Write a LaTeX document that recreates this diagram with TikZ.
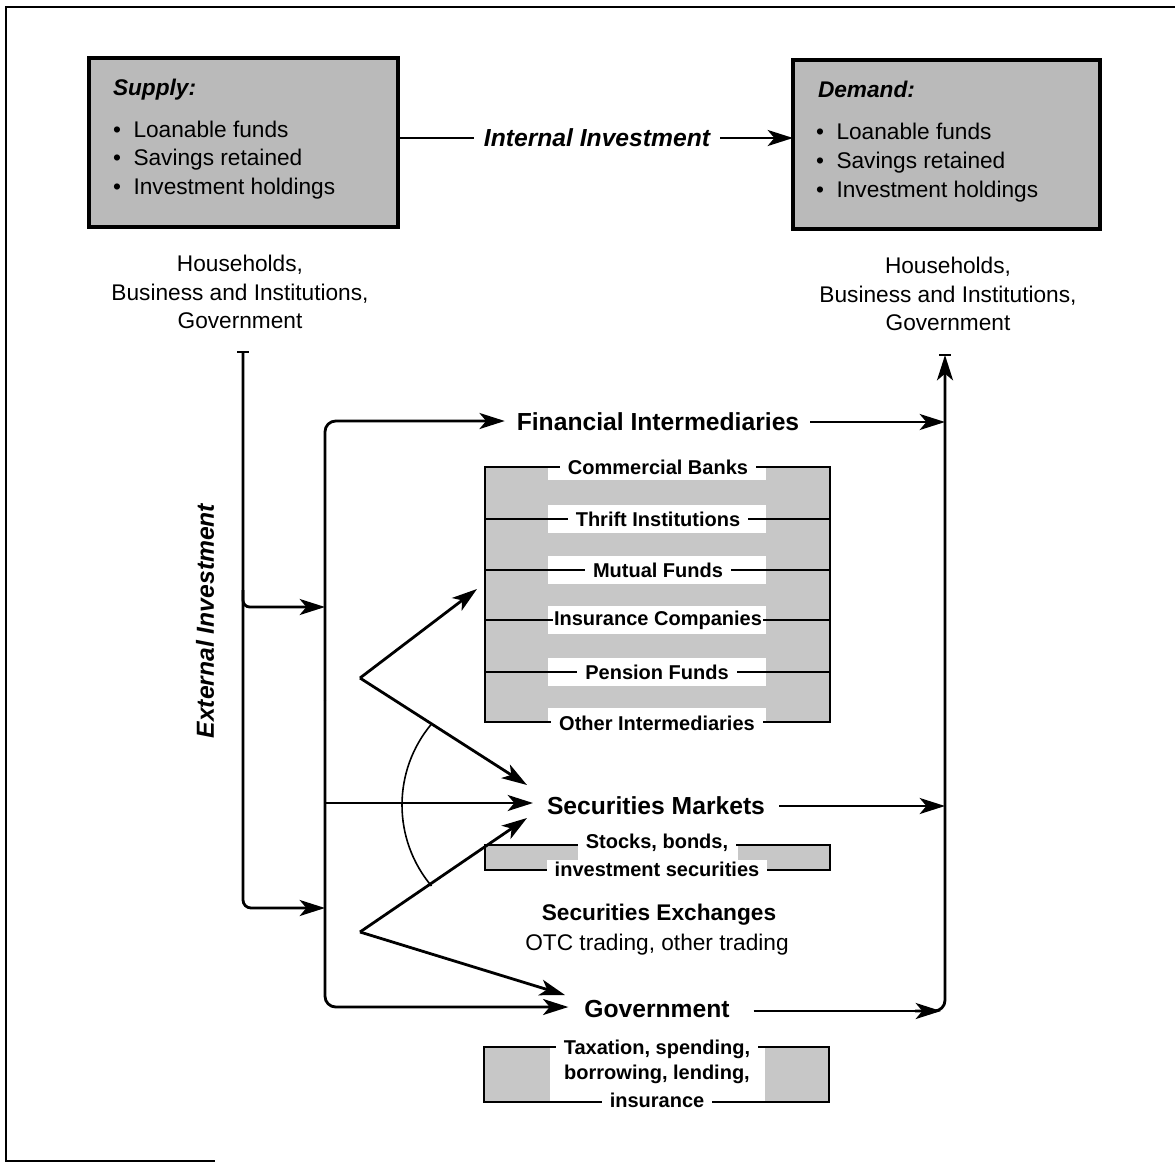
\documentclass[tikz,border=0pt]{standalone}
\usepackage{fontspec}
\setmainfont{Liberation Sans}
\usetikzlibrary{arrows.meta,calc}
\newcommand\fBig{\fontsize{18.5}{22}\selectfont\bfseries}
\newcommand\fBigI{\fontsize{18.5}{22}\selectfont\bfseries\itshape}
\newcommand\fMed{\fontsize{17}{21.4}\selectfont}
\newcommand\fMedB{\fontsize{17}{21.4}\selectfont\bfseries}
\newcommand\fSmB{\fontsize{15}{18}\selectfont\bfseries}
\begin{document}
\begin{tikzpicture}[x=0.75pt,y=-0.75pt,
  every node/.style={inner sep=0pt,outer sep=0pt},
  ln/.style={line width=2.1pt},
  arrw/.style={line width=2.1pt,-{Stealth[length=19pt,width=12pt,inset=5pt]}},
  bigbox/.style={draw,line width=2.4pt,fill=black!27,anchor=north west},
  gbox/.style={draw,line width=1.6pt,fill=black!22},
  inner/.style={line width=1.4pt},
  band/.style={fill=white,draw=none},
  lab/.style={fill=white,inner xsep=6pt,inner ysep=1pt,font=\fSmB},
  item/.style={anchor=base west,font=\fMed},
]
\useasboundingbox (0,0) rectangle (1175,1164);
% outer frame
\draw[line width=1.5pt] (1175,7) -- (6,7) -- (6,1161) -- (215,1161);

% supply and demand boxes
\node[bigbox,minimum width=231.75pt,minimum height=126.75pt] (supply) at (89,58) {};
\node[bigbox,minimum width=230.25pt,minimum height=126.75pt] (demand) at (793,60) {};
\node[anchor=base west,font=\fMedB\itshape] (suphead) at (113,95) {Supply:};
\node[item] (s1) at (113,137) {\textbullet\ \ Loanable funds};
\node[item] (s2) at (113,165) {\textbullet\ \ Savings retained};
\node[item] (s3) at (113,194) {\textbullet\ \ Investment holdings};
\node[anchor=base west,font=\fMedB\itshape] (demhead) at (818,97) {Demand:};
\node[item] (d1) at (816,139) {\textbullet\ \ Loanable funds};
\node[item] (d2) at (816,168) {\textbullet\ \ Savings retained};
\node[item] (d3) at (816,197) {\textbullet\ \ Investment holdings};

% internal investment
\node[font=\fBigI] (intinv) at (597,138) {Internal Investment};
\draw[ln] (supply.east |- intinv.west) -- ($(intinv.west)+(-10,0)$);
\draw[arrw] ($(intinv.east)+(10,0)$) -- (demand.west |- intinv.east);

% households
\node[align=center,font=\fMed] (hh1) at (240,292) {Households,\\Business and Institutions,\\Government};
\node[align=center,font=\fMed] (hh2) at (948,294) {Households,\\Business and Institutions,\\Government};

% main labels
\node[font=\fBig] (fi) at (658,422) {Financial Intermediaries};
\node[font=\fBig] (sm) at (656,806) {Securities Markets};
\node[font=\fBig] (gov) at (657,1009) {Government};
\node[font=\fMedB] (sx) at (659,915) {Securities Exchanges};
\node[font=\fMed] (otc) at (657,945) {OTC trading, other trading};
\node[font=\fBigI,rotate=90] (ext) at (205,621) {External Investment};

% intermediaries box
\filldraw[gbox] (485,467) rectangle (830,722);
\fill[band] (548,467) rectangle (766,480);
\foreach \yy in {519,570,620,672} {\fill[band] (548,\yy-14) rectangle (766,\yy+14);}
\fill[band] (548,708) rectangle (766,722);
\foreach \yy in {519,570,620,672} {\draw[inner] (485,\yy) -- (830,\yy);}
\draw[line width=1.6pt] (485,467) rectangle (830,722);
\node[lab] (cb) at (658,467) {Commercial Banks};
\node[lab] (ti) at (658,519) {Thrift Institutions};
\node[lab] (mf) at (658,570) {Mutual Funds};
\node[lab,inner xsep=1pt] (ic) at (658,620) {Insurance Companies};
\node[lab] (pf) at (657,672) {Pension Funds};
\node[lab] (oi) at (657,723) {Other Intermediaries};

% securities box
\filldraw[gbox] (485,845) rectangle (830,870);
\fill[band] (578,845) rectangle (738,870);
\draw[line width=1.6pt] (485,845) rectangle (830,870);
\node[lab] (sb) at (657,843) {Stocks, bonds,};
\node[lab] (is) at (657,869) {investment securities};

% government box
\filldraw[gbox] (484,1047) rectangle (829,1102);
\fill[band] (550,1047) rectangle (765,1102);
\draw[line width=1.6pt] (484,1047) rectangle (829,1102);
\node[lab] (tx) at (657,1049) {Taxation, spending,};
\node[lab,fill=none] (bl) at (657,1074) {borrowing, lending,};
\node[lab] (ins) at (657,1100) {insurance};

% left tree
\coordinate (ltop) at (243,352);
\coordinate (vx) at (325,700);
\coordinate (smw) at ($(sm.west)+(-14,-3)$);
\draw[ln] ($(ltop)+(-6,0)$) -- ($(ltop)+(6,0)$);
\draw[arrw,rounded corners=6pt] (ltop) |- (325,908);
\draw[arrw,rounded corners=5pt] (243,590) |- (325,607);
\draw[arrw,rounded corners=8pt] (vx) |- ($(fi.west)+(-12,-1)$);
\draw[arrw,rounded corners=8pt] (vx) |- ($(gov.west)+(-16,-2)$);
\draw[arrw] (vx |- smw) -- (smw);

% right side
\coordinate (rtop) at (945,355);
\coordinate (rbot) at (945,1007);
\coordinate (fie) at ($(fi.east)+(11,0)$);
\coordinate (sme) at ($(sm.east)+(14,0)$);
\draw[arrw] (fie) -- (rtop |- fie);
\draw[arrw] (sme) -- (rtop |- sme);
\draw[arrw] ($(gov.east)+(24,2)$) -- ($(rbot)+(-4,4)$);
\draw[arrw,rounded corners=8pt] ($(rbot)+(-30,4)$) -| (rtop);
\draw[ln] ($(rtop)+(-6,0)$) -- ($(rtop)+(6,0)$);

% converging arrows
\coordinate (v1) at (360,678);
\coordinate (v2) at (360,932);
\draw[arrw] (v1) -- (477,589);
\draw[arrw] (v1) -- (527,785);
\draw[arrw] (v2) -- (527,818);
\draw[arrw] (v2) -- (565,995);

% arc
\coordinate (ac) at (528,805);
\draw[line width=1.2pt] (ac) ++(140:126) arc[start angle=140,end angle=220,radius=126];
\end{tikzpicture}
\end{document}
